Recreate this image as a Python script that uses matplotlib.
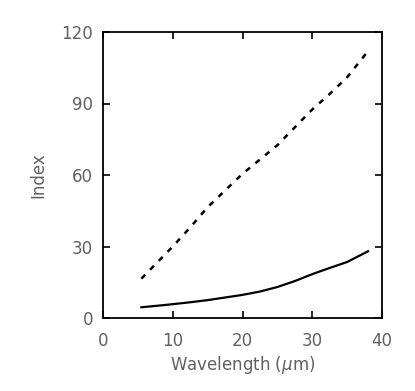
import matplotlib
matplotlib.use("Agg")
import matplotlib.pyplot as plt

# data
wave = [5.5, 8, 10, 12.5, 15, 17.5, 20, 22.5, 25, 27.5, 30, 32.5, 35, 38]
dashed_index = [16.5, 24, 30, 38, 46.5, 53.5, 60.5, 66.5, 72.5, 80, 87.5, 94, 101, 112]
solid_index = [4.5, 5.2, 5.8, 6.6, 7.5, 8.6, 9.7, 11.1, 13.0, 15.5, 18.4, 21.0, 23.5, 28.0]

grey = "#606060"

fig = plt.figure(figsize=(4.15, 3.91), dpi=100)
ax = fig.add_axes([103 / 415, 1 - 318 / 391, 279 / 415, 286 / 391])

ax.plot(wave, dashed_index, color="black", lw=1.8, ls=(0, (2.2, 2.8)))
ax.plot(wave, solid_index, color="black", lw=1.6)

ax.set_xlim(0, 40)
ax.set_ylim(0, 120)
ax.set_xticks([0, 10, 20, 30, 40])
ax.set_yticks([0, 30, 60, 90, 120])
ax.tick_params(direction="in", top=True, right=True, length=5, width=1.2,
               labelsize=12, labelcolor=grey)
ax.tick_params(axis="x", pad=10)
ax.tick_params(axis="y", pad=7)
for s in ax.spines.values():
    s.set_linewidth(1.3)

ax.set_xlabel(r"Wavelength ($\mu$m)", fontsize=12, color=grey, labelpad=3)
ax.set_ylabel("Index", fontsize=12, color=grey, labelpad=10)

fig.savefig("out.png", dpi=100)
